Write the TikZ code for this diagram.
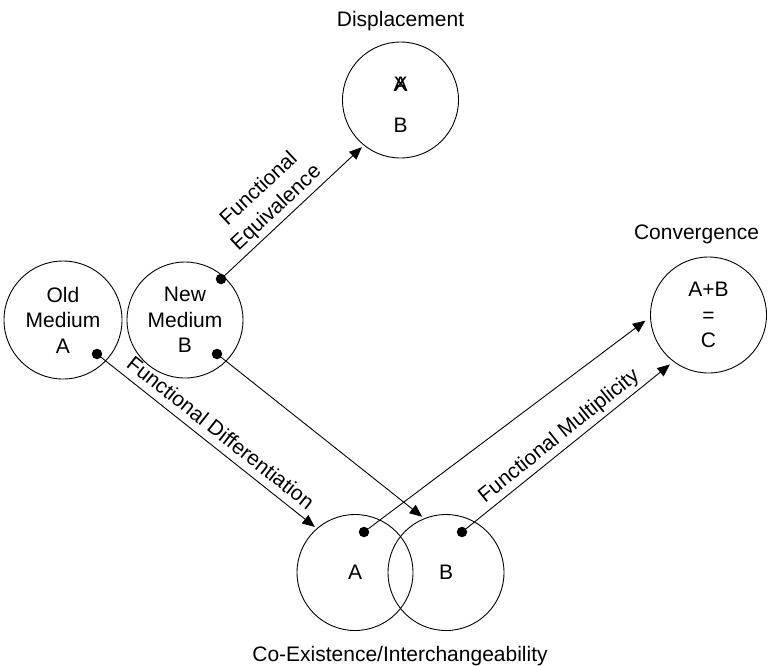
\documentclass[tikz,border=0pt]{standalone}
\usepackage{fontspec}
\setmainfont{Liberation Sans}
\usetikzlibrary{arrows.meta}
\begin{document}
\begin{tikzpicture}[x=1pt,y=-1pt,
  every node/.style={font=\fontsize{21}{25.5}\selectfont, text=black},
  medium/.style={draw, circle, line width=0.9pt, minimum size=116pt, inner sep=0pt, align=center},
  dot/.style={circle, fill=black, minimum size=10.5pt, inner sep=0pt},
  arr/.style={line width=0.9pt, -{Triangle[length=12.5pt,width=10.5pt]}},
  lab/.style={sloped, inner sep=2pt}]
\useasboundingbox (0,0) rectangle (770,665);
% circles
\node[medium] (disp) at (400.5,100) {};
\node[align=center] (dispin) at (400.5,104.75) {\ooalign{A\cr X\cr}\\[15.5pt]B};
\node[medium, minimum size=118pt] (old) at (63,320) {Old\\Medium\\A};
\node[medium] (new) at (185,320) {New\\Medium\\B};
\node[medium] (conv) at (708.5,315) {A+B\\=\\C};
\node[medium] (ca) at (355,572.5) {A};
\node[medium] (cb) at (446,572.5) {B};
% titles
\node[anchor=base] (tdisp) at (400.5,26.7) {Displacement};
\node[anchor=base] (tconv) at (696.5,239.5) {Convergence};
\node[anchor=base] (tco) at (400,661.5) {Co-Existence/Interchangeability};
% dots
\node[dot] (dold) at (97,354) {};
\node[dot] (dnewu) at (221,279) {};
\node[dot] (dnewl) at (217,354) {};
\node[dot] (da) at (364,532) {};
\node[dot] (db) at (462,532) {};
% connectors
\draw[arr, shorten >=2.6pt] (dnewu) -- (disp.231.4)
  node[lab, pos=0.44, above=1.5pt, align=center] {Functional\\Equivalence};
\draw[arr, shorten >=2.3pt] (dold) -- (ca.131.9)
  node[lab, pos=0.51, above=5.5pt] {Functional Differentiation};
\draw[arr, shorten >=2.5pt] (dnewl) -- (cb.112.5);
\draw[arr, shorten >=6pt] (da) -- (conv.182.7);
\draw[arr, shorten >=4.4pt] (db) -- (conv.233.9)
  node[lab, pos=0.49, above=1.2pt] {Functional Multiplicity};
\end{tikzpicture}
\end{document}
